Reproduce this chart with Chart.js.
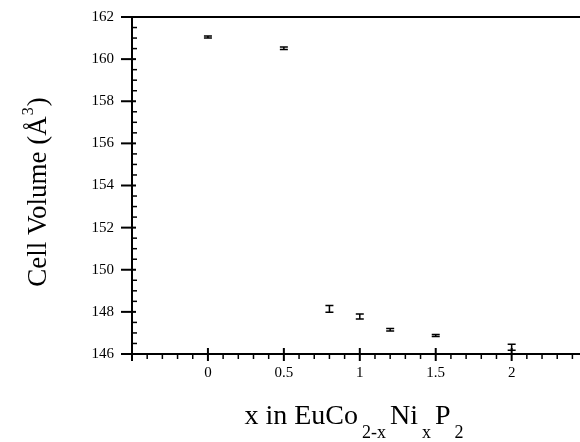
<!DOCTYPE html>
<html>
<head>
<meta charset="utf-8">
<script src="https://cdn.jsdelivr.net/npm/chart.js@4"></script>
<style>
  body { margin: 0; background: #fff; }
  #grafica { display: block; }
</style>
</head>
<body>
<canvas id="grafica" width="580" height="442"></canvas>
<script>
// x in EuCo(2-x)Ni(x)P2 vs cell volume
const xValues = [0, 0.5, 0.8, 1.0, 1.2, 1.5, 2.0];
const cellVolume = [161.05, 160.52, 148.14, 147.78, 147.15, 146.88, 146.32];
const volumeError = [0.05, 0.06, 0.16, 0.12, 0.06, 0.05, 0.14];
const xTickLabels = ['0', '0.5', '1', '1.5', '2'];
const yTickLabels = ['146', '148', '150', '152', '154', '156', '158', '160', '162'];

const fuente = '"Liberation Serif", "Times New Roman", serif';

// axis lines, major/minor ticks, error bars and axis titles
const ejesPlugin = {
    id: 'ejes',
    afterDatasetsDraw(chart) {
        const { ctx, chartArea: a, scales: { x, y } } = chart;
        ctx.save();
        ctx.strokeStyle = '#000';
        ctx.lineCap = 'butt';

        // error bars
        ctx.lineWidth = 1.5;
        xValues.forEach((xv, i) => {
            const px = x.getPixelForValue(xv);
            const yt = y.getPixelForValue(cellVolume[i] + volumeError[i]);
            const yb = y.getPixelForValue(cellVolume[i] - volumeError[i]);
            ctx.beginPath();
            ctx.moveTo(px, yt); ctx.lineTo(px, yb);
            ctx.moveTo(px - 4, yt); ctx.lineTo(px + 4, yt);
            ctx.moveTo(px - 4, yb); ctx.lineTo(px + 4, yb);
            ctx.stroke();
        });

        // frame
        ctx.lineWidth = 2;
        ctx.beginPath();
        ctx.moveTo(a.left, a.top); ctx.lineTo(a.right, a.top);
        ctx.moveTo(a.left, a.top); ctx.lineTo(a.left, a.bottom + 7);
        ctx.moveTo(a.left, a.bottom); ctx.lineTo(a.right, a.bottom);
        ctx.stroke();

        // y ticks
        for (let k = 0; k <= 32; k++) {
            const v = 146 + k * 0.5;
            const py = y.getPixelForValue(v);
            ctx.beginPath();
            if (k % 4 === 0) {
                ctx.lineWidth = 2;
                ctx.moveTo(a.left - 11, py); ctx.lineTo(a.left + 4, py);
            } else {
                ctx.lineWidth = 1.5;
                ctx.moveTo(a.left, py); ctx.lineTo(a.left + 5, py);
            }
            ctx.stroke();
        }

        // x ticks
        for (let k = -5; k <= 24; k++) {
            const px = x.getPixelForValue(k / 10);
            ctx.beginPath();
            if (k % 5 === 0) {
                ctx.lineWidth = 2;
                ctx.moveTo(px, a.bottom - 6); ctx.lineTo(px, a.bottom + 7);
            } else {
                ctx.lineWidth = 1.5;
                ctx.moveTo(px, a.bottom); ctx.lineTo(px, a.bottom + 5);
            }
            ctx.stroke();
        }

        ctx.fillStyle = '#000';
        ctx.textBaseline = 'alphabetic';

        // x title with subscripts
        const piezas = [
            ['x in EuCo', false], ['2-x', true], ['Ni', false],
            ['x', true], ['P', false], ['2', true]
        ];
        const fNormal = '28px ' + fuente, fSub = '18px ' + fuente;
        const hueco = 4;
        let total = 0;
        piezas.forEach(([t, sub]) => {
            ctx.font = sub ? fSub : fNormal;
            total += ctx.measureText(t).width + (sub ? 2 * hueco : 0);
        });
        let cx = (a.left + a.right) / 2 - total / 2;
        piezas.forEach(([t, sub]) => {
            ctx.font = sub ? fSub : fNormal;
            ctx.textAlign = 'left';
            ctx.fillText(t, cx + (sub ? hueco : 0), sub ? 438 : 424);
            cx += ctx.measureText(t).width + (sub ? 2 * hueco : 0);
        });

        // y title
        ctx.translate(46, 192);
        ctx.rotate(-Math.PI / 2);
        const fTitulo = '27px ' + fuente;
        const partes = [['Cell Volume (Å', false], ['3', true], [')', false]];
        const fSup = '16px ' + fuente;
        let ancho = 0;
        partes.forEach(([t, sup]) => {
            ctx.font = sup ? fSup : fTitulo;
            ancho += ctx.measureText(t).width + (sup ? 2 : 0);
        });
        let cy = -ancho / 2;
        partes.forEach(([t, sup]) => {
            ctx.font = sup ? fSup : fTitulo;
            ctx.textAlign = 'left';
            ctx.fillText(t, cy + (sup ? 1 : 0), sup ? -13 : 0);
            cy += ctx.measureText(t).width + (sup ? 2 : 0);
        });

        ctx.restore();
    }
};

function etiquetaX(v) {
    const i = xTickLabels.indexOf(String(Math.round(v * 100) / 100));
    return i >= 0 ? xTickLabels[i] : '';
}

function etiquetaY(v) {
    const i = yTickLabels.indexOf(String(Math.round(v)));
    return i >= 0 ? yTickLabels[i] : '';
}

const ctx = document.getElementById('grafica').getContext('2d');
const chart = new Chart(ctx, {
    type: 'scatter',
    data: {
        datasets: [{
            label: 'Cell Volume',
            data: xValues.map((xv, i) => ({ x: xv, y: cellVolume[i] })),
            pointRadius: 0,
            showLine: false
        }]
    },
    options: {
        responsive: false,
        animation: false,
        layout: { padding: { top: 17, left: 0, right: 0, bottom: 0 } },
        plugins: {
            legend: { display: false },
            tooltip: { enabled: false }
        },
        scales: {
            x: {
                type: 'linear',
                min: -0.5,
                max: 2.45,
                grid: { display: false, drawTicks: false },
                border: { display: false },
                afterFit: s => { s.height = 88; s.paddingLeft = 0; s.paddingRight = 0; },
                ticks: {
                    stepSize: 0.5,
                    autoSkip: false,
                    maxRotation: 0,
                    padding: 10,
                    color: '#000',
                    font: { family: fuente, size: 15 },
                    callback: etiquetaX
                }
            },
            y: {
                min: 146,
                max: 162,
                grid: { display: false, drawTicks: false },
                border: { display: false },
                afterFit: s => { s.width = 132; s.paddingTop = 0; s.paddingBottom = 0; },
                ticks: {
                    stepSize: 2,
                    autoSkip: false,
                    padding: 18,
                    color: '#000',
                    font: { family: fuente, size: 15 },
                    callback: etiquetaY
                }
            }
        }
    },
    plugins: [ejesPlugin]
});
</script>
</body>
</html>
